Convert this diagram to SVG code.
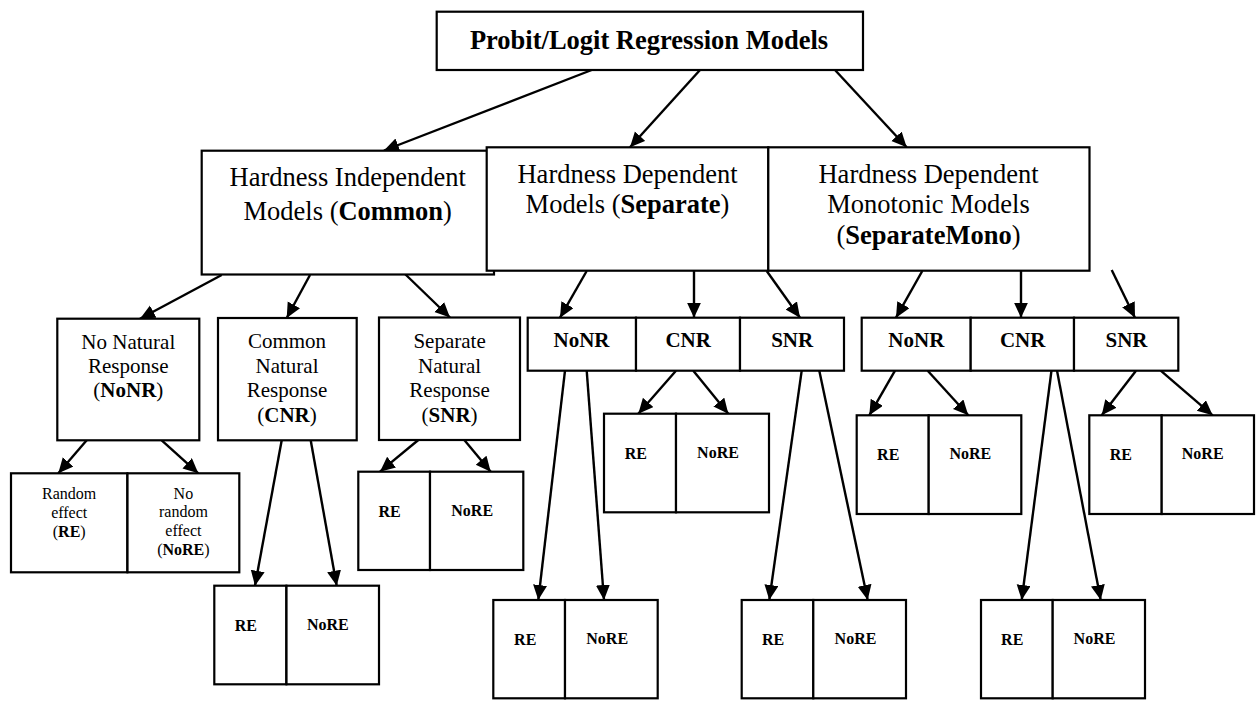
<svg xmlns="http://www.w3.org/2000/svg" width="1259" height="701" viewBox="0 0 1259 701">
<defs>
<marker id="ah" markerUnits="userSpaceOnUse" markerWidth="16" markerHeight="16" refX="15" refY="7" orient="auto">
<path d="M0,0 L15,7 L0,14 z" fill="#000"/>
</marker>
<style>
.b{fill:#fff;stroke:#000;stroke-width:2.2}
.t{font-family:"Liberation Serif","Times New Roman",serif;fill:#000;text-anchor:middle}
.L{font-size:26.5px}
.M{font-size:21px}
.S{font-size:16px}
.bo{font-weight:bold}
#connectors line{stroke:#000;stroke-width:2.4;marker-end:url(#ah)}
</style>
</defs>
<rect width="1259" height="701" fill="#fff"/>

<g id="connectors">
<line x1="591.7" y1="70" x2="384" y2="150.5"/>
<line x1="700" y1="70" x2="630" y2="147.3"/>
<line x1="835" y1="70" x2="906.7" y2="147.3"/>
<!-- HI children -->
<line x1="221.7" y1="275" x2="140" y2="318.7"/>
<line x1="310" y1="275" x2="286.7" y2="318"/>
<line x1="405" y1="274" x2="450" y2="317.5"/>
<line x1="86.7" y1="440.3" x2="58.3" y2="473.3"/>
<line x1="161.7" y1="440.3" x2="198.3" y2="473.3"/>
<line x1="281.7" y1="440.3" x2="255" y2="585.7"/>
<line x1="310.7" y1="440.3" x2="336.7" y2="585.7"/>
<line x1="418.3" y1="440" x2="380" y2="471.7"/>
<line x1="464.3" y1="440" x2="490.7" y2="471.7"/>
<!-- Separate children -->
<line x1="586.7" y1="271" x2="560" y2="317.7"/>
<line x1="694" y1="271" x2="694" y2="317.7"/>
<line x1="766.7" y1="271" x2="800" y2="317.7"/>
<line x1="565" y1="370.7" x2="538.3" y2="600"/>
<line x1="586.7" y1="370.7" x2="604" y2="600"/>
<line x1="676" y1="370.7" x2="638.3" y2="413.7"/>
<line x1="693.3" y1="370.7" x2="728.3" y2="413.7"/>
<line x1="801.7" y1="370.7" x2="769.3" y2="600"/>
<line x1="819.3" y1="370.7" x2="867.7" y2="600"/>
<!-- Mono children -->
<line x1="922.3" y1="271" x2="896" y2="317.7"/>
<line x1="1021" y1="271" x2="1021" y2="317.7"/>
<line x1="1111.7" y1="270" x2="1135" y2="317.7"/>
<line x1="895" y1="370.7" x2="869.3" y2="415.3"/>
<line x1="927.7" y1="370.7" x2="968.3" y2="415.3"/>
<line x1="1051.7" y1="369" x2="1021.7" y2="600"/>
<line x1="1056.7" y1="369" x2="1100.7" y2="600"/>
<line x1="1136" y1="370.7" x2="1101.7" y2="415.3"/>
<line x1="1160.7" y1="370.7" x2="1212.7" y2="415.3"/>
</g>

<g id="root">
<rect class="b" x="436.7" y="11.7" width="426.3" height="58.3"/>
<text class="t L bo" x="649" y="49.3">Probit/Logit Regression Models</text>
</g>

<g id="common">
<rect class="b" x="201.7" y="150.7" width="292.3" height="123.8"/>
<text class="t L" x="347.7" y="185.7">Hardness Independent</text>
<text class="t L" x="347.7" y="220">Models (<tspan class="bo">Common</tspan>)</text>
</g>

<g id="separate">
<rect class="b" x="486.7" y="147.3" width="281.6" height="123.4"/>
<text class="t L" x="627.5" y="182.7">Hardness Dependent</text>
<text class="t L" x="627.5" y="212.7">Models (<tspan class="bo">Separate</tspan>)</text>
</g>

<g id="separatemono">
<rect class="b" x="768.3" y="147.3" width="321.2" height="123.4"/>
<text class="t L" x="928.5" y="183.3">Hardness Dependent</text>
<text class="t L" x="928.5" y="212.7">Monotonic Models</text>
<text class="t L" x="928.5" y="244">(<tspan class="bo">SeparateMono</tspan>)</text>
</g>

<g id="c-nonr">
<rect class="b" x="57.3" y="318.7" width="142" height="121.6"/>
<text class="t M" x="128.3" y="349.3">No Natural</text>
<text class="t M" x="128.3" y="373.3">Response</text>
<text class="t M" x="128.3" y="397.3">(<tspan class="bo">NoNR</tspan>)</text>
</g>

<g id="c-cnr">
<rect class="b" x="218" y="318" width="138.7" height="122.3"/>
<text class="t M" x="287" y="348.3">Common</text>
<text class="t M" x="287" y="372.7">Natural</text>
<text class="t M" x="287" y="396.7">Response</text>
<text class="t M" x="287" y="421.7">(<tspan class="bo">CNR</tspan>)</text>
</g>

<g id="c-snr">
<rect class="b" x="379" y="317.5" width="141" height="122.5"/>
<text class="t M" x="449.6" y="348.3">Separate</text>
<text class="t M" x="449.6" y="372.7">Natural</text>
<text class="t M" x="449.6" y="396.7">Response</text>
<text class="t M" x="449.6" y="421.7">(<tspan class="bo">SNR</tspan>)</text>
</g>

<g id="c-nonr-re">
<rect class="b" x="11" y="473.3" width="116.3" height="99"/>
<text class="t S" x="69.2" y="499">Random</text>
<text class="t S" x="69.2" y="517.7">effect</text>
<text class="t S" x="69.2" y="536.7">(<tspan class="bo">RE</tspan>)</text>
</g>
<g id="c-nonr-nore">
<rect class="b" x="127.5" y="473.3" width="111.8" height="99"/>
<text class="t S" x="183.4" y="499">No</text>
<text class="t S" x="183.4" y="517.3">random</text>
<text class="t S" x="183.4" y="536">effect</text>
<text class="t S" x="183.4" y="555">(<tspan class="bo">NoRE</tspan>)</text>
</g>

<g id="c-cnr-re">
<rect class="b" x="214.3" y="585.7" width="72" height="98.6"/>
<text class="t S bo" x="245.8" y="631">RE</text>
</g>
<g id="c-cnr-nore">
<rect class="b" x="286.5" y="585.7" width="92.5" height="98.6"/>
<text class="t S bo" x="327.8" y="630">NoRE</text>
</g>

<g id="c-snr-re">
<rect class="b" x="358.3" y="471.7" width="71.7" height="98.3"/>
<text class="t S bo" x="389.5" y="516.7">RE</text>
</g>
<g id="c-snr-nore">
<rect class="b" x="430" y="471.7" width="93.3" height="98.3"/>
<text class="t S bo" x="472.2" y="516">NoRE</text>
</g>

<g id="s-nonr">
<rect class="b" x="527.7" y="317.7" width="108.3" height="53"/>
<text class="t M bo" x="581.5" y="347.3">NoNR</text>
</g>
<g id="s-cnr">
<rect class="b" x="636" y="317.7" width="104" height="53"/>
<text class="t M bo" x="688.2" y="347.3">CNR</text>
</g>
<g id="s-snr">
<rect class="b" x="740" y="317.7" width="104" height="53"/>
<text class="t M bo" x="792.2" y="347.3">SNR</text>
</g>

<g id="s-nonr-re">
<rect class="b" x="493.3" y="600" width="71.7" height="98.3"/>
<text class="t S bo" x="525.2" y="645">RE</text>
</g>
<g id="s-nonr-nore">
<rect class="b" x="565" y="600" width="92.7" height="98.3"/>
<text class="t S bo" x="607.2" y="644">NoRE</text>
</g>

<g id="s-cnr-re">
<rect class="b" x="604" y="413.7" width="72" height="98.6"/>
<text class="t S bo" x="635.8" y="459">RE</text>
</g>
<g id="s-cnr-nore">
<rect class="b" x="676" y="413.7" width="93" height="98.6"/>
<text class="t S bo" x="718" y="458.3">NoRE</text>
</g>

<g id="s-snr-re">
<rect class="b" x="741.7" y="600" width="71.6" height="98.3"/>
<text class="t S bo" x="773" y="645">RE</text>
</g>
<g id="s-snr-nore">
<rect class="b" x="813.3" y="600" width="92.7" height="98.3"/>
<text class="t S bo" x="855.5" y="644">NoRE</text>
</g>

<g id="m-nonr">
<rect class="b" x="861.7" y="317.7" width="109" height="53"/>
<text class="t M bo" x="916.3" y="347.3">NoNR</text>
</g>
<g id="m-cnr">
<rect class="b" x="970.7" y="317.7" width="103.3" height="53"/>
<text class="t M bo" x="1022.7" y="347.3">CNR</text>
</g>
<g id="m-snr">
<rect class="b" x="1074" y="317.7" width="104.3" height="53"/>
<text class="t M bo" x="1126.5" y="347.3">SNR</text>
</g>

<g id="m-nonr-re">
<rect class="b" x="856.7" y="415.3" width="72" height="98.7"/>
<text class="t S bo" x="888.2" y="460">RE</text>
</g>
<g id="m-nonr-nore">
<rect class="b" x="928.7" y="415.3" width="92.6" height="98.7"/>
<text class="t S bo" x="970.3" y="459.3">NoRE</text>
</g>

<g id="m-cnr-re">
<rect class="b" x="981" y="600" width="71.7" height="98.3"/>
<text class="t S bo" x="1012.2" y="645">RE</text>
</g>
<g id="m-cnr-nore">
<rect class="b" x="1052.7" y="600" width="92.3" height="98.3"/>
<text class="t S bo" x="1094.5" y="644">NoRE</text>
</g>

<g id="m-snr-re">
<rect class="b" x="1089.3" y="415.3" width="72.4" height="98.7"/>
<text class="t S bo" x="1120.8" y="460">RE</text>
</g>
<g id="m-snr-nore">
<rect class="b" x="1161.7" y="415.3" width="92.3" height="98.7"/>
<text class="t S bo" x="1202.7" y="459.3">NoRE</text>
</g>
</svg>
